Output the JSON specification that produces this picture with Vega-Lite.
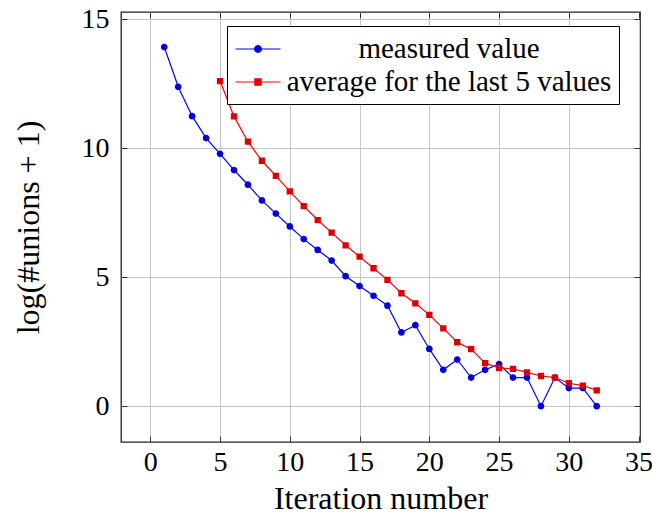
{
  "$schema": "https://vega.github.io/schema/vega-lite/v6.json",
  "width": 519,
  "height": 430,
  "autosize": "none",
  "padding": {"left": 121, "top": 12, "right": 12, "bottom": 75},
  "background": "white",
  "config": {
    "font": "Liberation Serif",
    "view": {"stroke": "#222", "strokeWidth": 1.3},
    "axis": {"labelFont": "Liberation Serif", "titleFont": "Liberation Serif", "labelColor": "black", "titleColor": "black", "titleFontWeight": "normal"},
    "legend": {"labelFont": "Liberation Serif"}
  },
  "data": {
    "values": [
      {"x": 1, "y": 13.93, "series": "measured value"},
      {"x": 2, "y": 12.39, "series": "measured value"},
      {"x": 3, "y": 11.25, "series": "measured value"},
      {"x": 4, "y": 10.40, "series": "measured value"},
      {"x": 5, "y": 9.79, "series": "measured value"},
      {"x": 6, "y": 9.16, "series": "measured value"},
      {"x": 7, "y": 8.59, "series": "measured value"},
      {"x": 8, "y": 7.98, "series": "measured value"},
      {"x": 9, "y": 7.47, "series": "measured value"},
      {"x": 10, "y": 6.97, "series": "measured value"},
      {"x": 11, "y": 6.48, "series": "measured value"},
      {"x": 12, "y": 6.06, "series": "measured value"},
      {"x": 13, "y": 5.65, "series": "measured value"},
      {"x": 14, "y": 5.04, "series": "measured value"},
      {"x": 15, "y": 4.66, "series": "measured value"},
      {"x": 16, "y": 4.28, "series": "measured value"},
      {"x": 17, "y": 3.90, "series": "measured value"},
      {"x": 18, "y": 2.86, "series": "measured value"},
      {"x": 19, "y": 3.14, "series": "measured value"},
      {"x": 20, "y": 2.22, "series": "measured value"},
      {"x": 21, "y": 1.41, "series": "measured value"},
      {"x": 22, "y": 1.81, "series": "measured value"},
      {"x": 23, "y": 1.11, "series": "measured value"},
      {"x": 24, "y": 1.41, "series": "measured value"},
      {"x": 25, "y": 1.63, "series": "measured value"},
      {"x": 26, "y": 1.11, "series": "measured value"},
      {"x": 27, "y": 1.11, "series": "measured value"},
      {"x": 28, "y": 0, "series": "measured value"},
      {"x": 29, "y": 1.11, "series": "measured value"},
      {"x": 30, "y": 0.70, "series": "measured value"},
      {"x": 31, "y": 0.70, "series": "measured value"},
      {"x": 32, "y": 0, "series": "measured value"},
      {"x": 5, "y": 12.61, "series": "average for the last 5 values"},
      {"x": 6, "y": 11.24, "series": "average for the last 5 values"},
      {"x": 7, "y": 10.26, "series": "average for the last 5 values"},
      {"x": 8, "y": 9.52, "series": "average for the last 5 values"},
      {"x": 9, "y": 8.93, "series": "average for the last 5 values"},
      {"x": 10, "y": 8.33, "series": "average for the last 5 values"},
      {"x": 11, "y": 7.76, "series": "average for the last 5 values"},
      {"x": 12, "y": 7.22, "series": "average for the last 5 values"},
      {"x": 13, "y": 6.73, "series": "average for the last 5 values"},
      {"x": 14, "y": 6.24, "series": "average for the last 5 values"},
      {"x": 15, "y": 5.80, "series": "average for the last 5 values"},
      {"x": 16, "y": 5.35, "series": "average for the last 5 values"},
      {"x": 17, "y": 4.90, "series": "average for the last 5 values"},
      {"x": 18, "y": 4.38, "series": "average for the last 5 values"},
      {"x": 19, "y": 3.99, "series": "average for the last 5 values"},
      {"x": 20, "y": 3.54, "series": "average for the last 5 values"},
      {"x": 21, "y": 3.02, "series": "average for the last 5 values"},
      {"x": 22, "y": 2.48, "series": "average for the last 5 values"},
      {"x": 23, "y": 2.21, "series": "average for the last 5 values"},
      {"x": 24, "y": 1.67, "series": "average for the last 5 values"},
      {"x": 25, "y": 1.48, "series": "average for the last 5 values"},
      {"x": 26, "y": 1.45, "series": "average for the last 5 values"},
      {"x": 27, "y": 1.31, "series": "average for the last 5 values"},
      {"x": 28, "y": 1.17, "series": "average for the last 5 values"},
      {"x": 29, "y": 1.11, "series": "average for the last 5 values"},
      {"x": 30, "y": 0.89, "series": "average for the last 5 values"},
      {"x": 31, "y": 0.80, "series": "average for the last 5 values"},
      {"x": 32, "y": 0.61, "series": "average for the last 5 values"}
    ]
  },
  "resolve": {"axis": {"x": "independent", "y": "independent"}},
  "layer": [
    {
      "mark": {"type": "line", "strokeWidth": 1.2},
      "encoding": {
        "x": {"field": "x", "type": "quantitative",
          "scale": {"domain": [-2.1, 35.1], "nice": false, "zero": false},
          "axis": {"title": "Iteration number", "values": [0, 5, 10, 15, 20, 25, 30, 35], "format": "d",
            "ticks": false, "domain": false, "grid": true, "gridColor": "#c4c4c4", "gridWidth": 1,
            "labelFont": "Liberation Serif", "labelFontSize": 28, "labelPadding": 6, "titleFontSize": 32, "titlePadding": 7, "labelFlush": false}},
        "y": {"field": "y", "type": "quantitative",
          "scale": {"domain": [-1.39, 15.29], "nice": false, "zero": false},
          "axis": {"title": "log(#unions + 1)", "values": [0, 5, 10, 15], "format": "d",
            "ticks": false, "domain": false, "grid": true, "gridColor": "#c4c4c4", "gridWidth": 1,
            "labelFont": "Liberation Serif", "labelFontSize": 28, "labelPadding": 12, "titleFontSize": 32, "titlePadding": 36}},
        "stroke": {"field": "series", "type": "nominal",
          "scale": {"domain": ["measured value", "average for the last 5 values"], "range": ["#0000ff", "#ff0000"]},
          "legend": {"title": null, "orient": "none", "legendX": 106, "legendY": 14, "direction": "vertical",
            "padding": 7, "strokeColor": "black", "fillColor": "white", "cornerRadius": 0,
            "labelFont": "Liberation Serif", "labelFontSize": 29, "labelColor": "black",
            "labelAlign": "center", "labelOffset": 183, "labelLimit": 400,
            "symbolSize": 900, "symbolStrokeWidth": 1.2, "rowPadding": 2,
            "encode": {
              "symbols": {"update": {
                "x": {"value": 24},
                "shape": {"scale": "shape", "field": "value"},
                "fill": {"scale": "fill", "field": "value"},
                "fillOpacity": {"value": 1}
              }}
            }}},
        "detail": {"field": "series"}
      }
    },
    {
      "mark": {"type": "point", "filled": true, "opacity": 1, "size": 900, "strokeWidth": 0},
      "encoding": {
        "x": {"field": "x", "type": "quantitative",
          "scale": {"domain": [-2.1, 35.1], "nice": false, "zero": false},
          "axis": {"orient": "bottom", "title": null, "labels": false, "grid": false, "domain": false,
            "values": [0, 5, 10, 15, 20, 25, 30, 35], "ticks": true, "tickSize": 6, "offset": -6, "tickColor": "#333", "tickWidth": 1}},
        "y": {"field": "y", "type": "quantitative",
          "scale": {"domain": [-1.39, 15.29], "nice": false, "zero": false},
          "axis": {"orient": "left", "title": null, "labels": false, "grid": false, "domain": false,
            "values": [0, 5, 10, 15], "ticks": true, "tickSize": 6, "offset": -6, "tickColor": "#333", "tickWidth": 1}},
        "fill": {"field": "series", "type": "nominal",
          "scale": {"domain": ["measured value", "average for the last 5 values"], "range": ["#0000dd", "#dd0000"]},
          "legend": null},
        "shape": {"field": "series", "type": "nominal",
          "scale": {"domain": ["measured value", "average for the last 5 values"],
            "range": ["M-1.5,0H1.5M-0.225,0A0.225,0.225 0 1,0 0.225,0A0.225,0.225 0 1,0 -0.225,0Z", "M-1.5,0H1.5M-0.21,-0.21H0.21V0.21H-0.21Z"]},
          "legend": null}
      }
    },
    {
      "mark": {"type": "point", "opacity": 0},
      "encoding": {
        "x": {"field": "x", "type": "quantitative",
          "scale": {"domain": [-2.1, 35.1], "nice": false, "zero": false},
          "axis": {"orient": "top", "title": null, "labels": false, "grid": false, "domain": false,
            "values": [0, 5, 10, 15, 20, 25, 30, 35], "ticks": true, "tickSize": 6, "offset": -6, "tickColor": "#333", "tickWidth": 1}},
        "y": {"field": "y", "type": "quantitative",
          "scale": {"domain": [-1.39, 15.29], "nice": false, "zero": false},
          "axis": {"orient": "right", "title": null, "labels": false, "grid": false, "domain": false,
            "values": [0, 5, 10, 15], "ticks": true, "tickSize": 6, "offset": -6, "tickColor": "#333", "tickWidth": 1}}
      }
    }
  ]
}
